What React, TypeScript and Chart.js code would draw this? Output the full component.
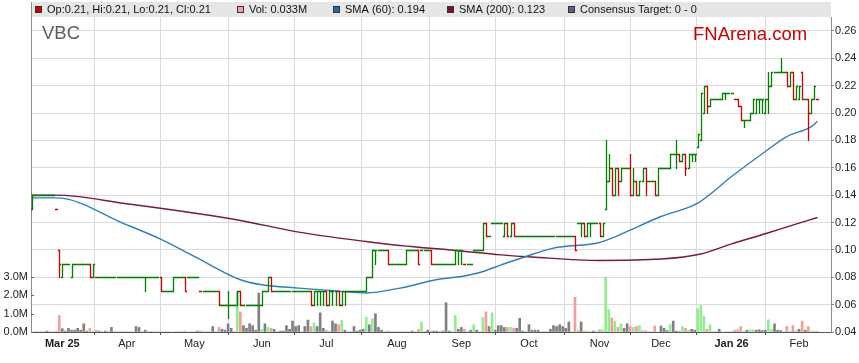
import React, { useEffect, useRef } from "react";
import { Chart, registerables } from "chart.js";

Chart.register(...registerables);

type Bar = number | [number, number, number, number];

// Daily bars, one array per month (weekdays). A plain number = flat day (O=H=L=C); a tuple = [open, high, low, close].
const feb25: Bar[] = [[0.13, 0.14, 0.13, 0.14], 0.14, 0.14, 0.14, 0.14, 0.14, 0.14, 0.14, 0.13, [0.1, 0.1, 0.08, 0.09]];
const mar25: Bar[] = [[0.08, 0.09, 0.08, 0.09], 0.09, 0.09, [0.08, 0.09, 0.08, 0.09], 0.09, 0.09, 0.09, 0.09, 0.09, [0.09, 0.09, 0.08, 0.08], [0.08, 0.09, 0.08, 0.09], 0.08, 0.08, 0.08, 0.08, 0.08, 0.08, 0.08, 0.08, 0.08, 0.08];
const apr25: Bar[] = [0.08, 0.08, 0.08, 0.08, 0.08, 0.08, [0.08, 0.08, 0.07, 0.08], 0.08, 0.08, 0.08, 0.08, [0.08, 0.08, 0.07, 0.07], 0.07, 0.07, 0.07, [0.07, 0.08, 0.07, 0.08], 0.08, 0.08, 0.08, [0.08, 0.08, 0.07, 0.07], 0.08, 0.08];
const may25: Bar[] = [0.08, 0.08, 0.07, 0.07, 0.07, 0.07, 0.07, 0.07, [0.07, 0.07, 0.06, 0.06], 0.06, 0.06, [0.06, 0.07, 0.05, 0.06], 0.06, 0.06, [0.06, 0.07, 0.06, 0.07], [0.07, 0.07, 0.06, 0.06], 0.06, 0.06, 0.06, 0.06, 0.06, 0.06];
const jun25: Bar[] = [[0.06, 0.07, 0.06, 0.07], 0.07, [0.07, 0.08, 0.07, 0.08], [0.08, 0.08, 0.07, 0.07], 0.07, 0.07, 0.07, 0.07, 0.07, 0.07, 0.07, 0.07, 0.07, 0.07, 0.07, 0.07, [0.07, 0.07, 0.06, 0.06], [0.06, 0.07, 0.06, 0.07], [0.07, 0.07, 0.06, 0.07], [0.07, 0.07, 0.06, 0.07], [0.07, 0.07, 0.06, 0.07]];
const jul25: Bar[] = [[0.07, 0.07, 0.06, 0.06], [0.06, 0.07, 0.06, 0.07], [0.07, 0.07, 0.06, 0.07], [0.07, 0.07, 0.06, 0.07], [0.07, 0.07, 0.06, 0.06], [0.06, 0.07, 0.06, 0.07], [0.07, 0.07, 0.06, 0.07], 0.07, 0.07, 0.07, 0.07, 0.07, 0.07, [0.07, 0.08, 0.07, 0.08], 0.08, [0.08, 0.1, 0.08, 0.1], [0.1, 0.1, 0.09, 0.1], 0.1, 0.1, 0.1, [0.1, 0.1, 0.09, 0.09], 0.09, 0.09];
const aug25: Bar[] = [0.09, 0.09, 0.09, [0.09, 0.1, 0.09, 0.1], 0.1, 0.1, 0.1, [0.1, 0.1, 0.09, 0.09], 0.1, 0.1, 0.1, [0.1, 0.1, 0.09, 0.09], 0.09, 0.09, 0.09, 0.09, 0.09, 0.09, 0.09, [0.09, 0.1, 0.09, 0.1], [0.1, 0.1, 0.09, 0.1]];
const sep25: Bar[] = [[0.1, 0.1, 0.09, 0.1], 0.09, 0.09, 0.09, 0.1, 0.1, 0.1, [0.1, 0.12, 0.1, 0.12], [0.12, 0.12, 0.11, 0.11], 0.11, 0.12, 0.12, 0.12, 0.12, [0.11, 0.12, 0.11, 0.12], [0.12, 0.12, 0.11, 0.11], [0.11, 0.12, 0.11, 0.12], [0.12, 0.12, 0.11, 0.11], 0.11, 0.11, 0.11, 0.11];
const oct25: Bar[] = [0.11, 0.11, 0.11, 0.11, 0.11, 0.11, 0.11, 0.11, 0.11, 0.11, 0.11, 0.11, 0.11, 0.11, 0.11, [0.11, 0.11, 0.1, 0.1], 0.12, [0.12, 0.12, 0.11, 0.12], [0.12, 0.12, 0.11, 0.11], [0.11, 0.12, 0.11, 0.12], [0.12, 0.12, 0.11, 0.12], 0.12, 0.12];
const nov25: Bar[] = [[0.12, 0.12, 0.11, 0.11], [0.11, 0.12, 0.11, 0.12], [0.13, 0.18, 0.13, 0.15], [0.15, 0.17, 0.15, 0.16], [0.16, 0.16, 0.14, 0.14], [0.14, 0.16, 0.14, 0.16], [0.16, 0.16, 0.14, 0.15], [0.15, 0.16, 0.15, 0.16], 0.16, 0.16, [0.16, 0.17, 0.14, 0.14], [0.14, 0.16, 0.14, 0.15], [0.15, 0.15, 0.14, 0.14], [0.14, 0.15, 0.14, 0.15], [0.15, 0.16, 0.15, 0.16], [0.16, 0.16, 0.14, 0.15], 0.15, 0.15, [0.15, 0.15, 0.14, 0.14], [0.14, 0.16, 0.14, 0.16]];
const dec25: Bar[] = [0.16, 0.16, 0.16, [0.16, 0.17, 0.16, 0.17], 0.17, [0.17, 0.18, 0.16, 0.17], [0.17, 0.17, 0.165, 0.165], [0.165, 0.17, 0.165, 0.17], [0.17, 0.17, 0.155, 0.16], [0.16, 0.17, 0.16, 0.17], [0.17, 0.17, 0.165, 0.17], [0.17, 0.17, 0.165, 0.17], [0.175, 0.185, 0.175, 0.185], [0.18, 0.215, 0.18, 0.215], [0.2, 0.22, 0.2, 0.22], [0.22, 0.22, 0.2, 0.205], [0.205, 0.21, 0.205, 0.21], 0.21, 0.21, 0.21, [0.21, 0.215, 0.21, 0.215], [0.215, 0.215, 0.21, 0.215], 0.215];
const jan26: Bar[] = [0.215, 0.21, [0.21, 0.21, 0.205, 0.205], [0.205, 0.205, 0.195, 0.195], [0.195, 0.195, 0.19, 0.195], 0.195, [0.195, 0.2, 0.195, 0.2], [0.2, 0.21, 0.2, 0.21], [0.2, 0.21, 0.2, 0.21], [0.21, 0.21, 0.2, 0.21], [0.21, 0.21, 0.2, 0.21], [0.2, 0.21, 0.2, 0.21], [0.21, 0.23, 0.2, 0.22], [0.22, 0.23, 0.22, 0.23], 0.23, 0.23, [0.23, 0.24, 0.23, 0.23], 0.23, [0.23, 0.23, 0.22, 0.22], [0.22, 0.23, 0.22, 0.23], [0.23, 0.23, 0.21, 0.21], [0.21, 0.22, 0.21, 0.22]];
const feb26: Bar[] = [[0.21, 0.22, 0.21, 0.22], [0.23, 0.23, 0.21, 0.21], 0.21, [0.21, 0.21, 0.18, 0.2], [0.2, 0.21, 0.2, 0.21], [0.21, 0.22, 0.21, 0.22], 0.21];

// Daily volume (millions of shares), one array per month
const volFeb25 = [0, 0, 0, 0, 0, 0.05, 0, 0, 0.05, 0.9];
const volMar25 = [0.18, 0.05, 0.2, 0.1, 0.1, 0.2, 0.1, 0.45, 0.05, 0.2, 0.05, 0.1, 0.05, 0, 0.05, 0, 0.25, 0, 0, 0, 0];
const volApr25 = [0, 0, 0, 0.3, 0.25, 0, 0.1, 0, 0, 0, 0, 0, 0, 0, 0, 0, 0, 0, 0, 0.05, 0, 0];
const volMay25 = [0, 0.05, 0.05, 0, 0, 0, 0.3, 0, 0.25, 0.15, 0.1, 0.45, 0.2, 0, 2.2, 1.1, 0.35, 0.2, 0.45, 0.35, 0.1, 2.13];
const volJun25 = [0.15, 0.45, 0.25, 0.2, 0.15, 0, 0.05, 0.05, 0.35, 0.15, 0.6, 0.3, 0.35, 0, 0.3, 0.65, 0.3, 0.5, 0.3, 1.05, 0.2];
const volJul25 = [0.1, 0.05, 0.6, 0.45, 0.4, 0.65, 0.1, 0, 0, 0.3, 0.05, 0.1, 0.15, 0.8, 0.4, 0.73, 1.0, 0.25, 0.1, 0, 0.05, 0, 0];
const volAug25 = [0, 0, 0, 0.05, 0, 0.05, 0, 0.15, 0.55, 0, 0.1, 0.05, 0.05, 0.05, 0, 0.05, 1.6, 0.05, 0, 0.9, 0.15];
const volSep25 = [0.25, 0.15, 0, 0.1, 0.4, 0.1, 0, 0.8, 1.1, 0.3, 1.05, 0.1, 0.35, 0.35, 0.25, 0.25, 0.25, 0.2, 0.2, 0.75, 0.05, 0];
const volOct25 = [0.4, 0.1, 0.1, 0.1, 0, 0, 0, 0.15, 0.35, 0.3, 0.4, 0.3, 0.2, 0.55, 0, 1.9, 0.1, 0.55, 0.05, 0.05, 0, 0.05, 0];
const volNov25 = [0.13, 0.1, 3.0, 1.22, 0.77, 0.6, 0.25, 0.45, 0.2, 0.45, 0.3, 0.25, 0.3, 0.35, 0.08, 0.08, 0, 0, 0.33, 0];
const volDec25 = [0.33, 0.2, 0.08, 0.4, 0.6, 0.05, 0.05, 0.3, 0.2, 0.1, 0.15, 0.1, 1.27, 1.45, 0.85, 0.15, 0.4, 0, 0, 0.15, 0, 0, 0];
const volJan26 = [0, 0.1, 0.12, 0.3, 0, 0.1, 0.12, 0.12, 0.1, 0.12, 0.08, 0.1, 0.67, 0.15, 0.45, 0.1, 0.08, 0, 0.3, 0.05, 0.35, 0.08];
const volFeb26 = [0.15, 0.6, 0.1, 0.3, 0.05, 0.05, 0.033];

const monthLabels = ["", "Mar 25", "Apr", "May", "Jun", "Jul", "Aug", "Sep", "Oct", "Nov", "Dec", "Jan 26", "Feb"];

// Moving averages, sampled at weekday numbers (0 = 3 Mar 2025)
const sma60Day = [-10, -2, 21, 32, 43, 58, 65, 77, 88, 99, 110, 123, 130, 136, 143, 151, 160, 175, 179, 184, 195, 207, 218, 229, 236, 244, 246];
const sma60Val = [0.138, 0.138, 0.1183, 0.1079, 0.0953, 0.0782, 0.0745, 0.0721, 0.0702, 0.0685, 0.0721, 0.0787, 0.0806, 0.0835, 0.0891, 0.0952, 0.1013, 0.1054, 0.1086, 0.1135, 0.1244, 0.1342, 0.1536, 0.1719, 0.1828, 0.1901, 0.194];
const sma200Day = [-10, -2, 21, 45, 58, 77, 99, 110, 128, 143, 153, 175, 195, 208, 218, 229, 240, 246];
const sma200Val = [0.14, 0.14, 0.1337, 0.1262, 0.1215, 0.113, 0.1061, 0.1032, 0.0996, 0.0964, 0.0948, 0.0923, 0.0933, 0.097, 0.1044, 0.1118, 0.1196, 0.1237];

const priceTicks = [0.04, 0.06, 0.08, 0.1, 0.12, 0.14, 0.16, 0.18, 0.2, 0.22, 0.24, 0.26];
const volTicks = [0, 1, 2, 3];

const legendTexts = ["Op:0.21, Hi:0.21, Lo:0.21, Cl:0.21", "Vol: 0.033M", "SMA (60): 0.194", "SMA (200): 0.123", "Consensus Target: 0 - 0"];
const tickerName = "VBC";
const brandName = "FNArena.com";

// ---------- styling ----------
const FONT = "'Liberation Sans', Arial, Helvetica, sans-serif";
const UP = "#008000";
const DOWN = "#d40000";
const VOL_UP = "#90ee90";
const VOL_DOWN = "#f79c9c";
const VOL_FLAT = "#808080";
const SMA60_COLOR = "#2c7fc0";
const SMA200_COLOR = "#7d1838";
const GRID = "#dadada";
const legendSwatches = ["#cc0000", "#f4a0a0", "#1f6aa8", "#7a1030", "#5f5f8c"];
const legendX = [35, 237, 333, 447, 568];

// ---------- derived ----------
const monthBars: Bar[][] = [feb25, mar25, apr25, may25, jun25, jul25, aug25, sep25, oct25, nov25, dec25, jan26, feb26];
const monthVols: number[][] = [volFeb25, volMar25, volApr25, volMay25, volJun25, volJul25, volAug25, volSep25, volOct25, volNov25, volDec25, volJan26, volFeb26];

const toOhlc = (b: Bar) => (typeof b === "number" ? { o: b, h: b, l: b, c: b } : { o: b[0], h: b[1], l: b[2], c: b[3] });
const firstDay = -feb25.length;
const bars = monthBars.flat().map(toOhlc);
const vols = monthVols.flat();
const days = bars.map((_, k) => firstDay + k);
const dirs = bars.map((b, k) => {
  if (k === 0) return 1;
  const d = b.c - bars[k - 1].c;
  return Math.abs(d) < 1e-9 ? 0 : Math.sign(d);
});
const monthStarts: number[] = [];
{
  let acc = firstDay;
  monthBars.forEach((m) => {
    monthStarts.push(acc);
    acc += m.length;
  });
}
const labelAt = (v: number) => {
  const idx = monthStarts.indexOf(v);
  return idx >= 0 ? monthLabels[idx] : "";
};

const ohlcPlugin = {
  id: "ohlc",
  afterDatasetsDraw(chart: any) {
    const { ctx, chartArea, scales } = chart;
    const x = scales.x;
    const y = scales.y;
    ctx.save();
    ctx.beginPath();
    ctx.rect(chartArea.left, chartArea.top, chartArea.right - chartArea.left, chartArea.bottom - chartArea.top);
    ctx.clip();
    ctx.lineWidth = 1.3;
    bars.forEach((b, k) => {
      const px = Math.round(x.getPixelForValue(days[k])) + 0.5;
      const yo = Math.round(y.getPixelForValue(b.o)) + 0.5;
      const yc = Math.round(y.getPixelForValue(b.c)) + 0.5;
      const yh = Math.round(y.getPixelForValue(b.h)) + 0.5;
      const yl = Math.round(y.getPixelForValue(b.l)) + 0.5;
      ctx.strokeStyle = dirs[k] < 0 ? DOWN : UP;
      ctx.beginPath();
      if (yl - yh > 0.1) {
        ctx.moveTo(px, yh - 0.5);
        ctx.lineTo(px, yl + 0.5);
      }
      ctx.moveTo(px - 1.6, yo);
      ctx.lineTo(px + 0.5, yo);
      ctx.moveTo(px - 0.5, yc);
      ctx.lineTo(px + 1.6, yc);
      ctx.stroke();
    });
    ctx.restore();
  },
};

const decorPlugin = {
  id: "decor",
  beforeDraw(chart: any) {
    const { ctx, width, height } = chart;
    ctx.save();
    ctx.fillStyle = "#ffffff";
    ctx.fillRect(0, 0, width, height);
    ctx.restore();
  },
  beforeDatasetsDraw(chart: any) {
    const { ctx, chartArea } = chart;
    ctx.save();
    ctx.textBaseline = "alphabetic";
    ctx.font = `18.5px ${FONT}`;
    ctx.fillStyle = "#5e5e5e";
    ctx.textAlign = "left";
    ctx.fillText(tickerName, chartArea.left + 11, 39);
    ctx.fillStyle = "#cc0000";
    ctx.fillText(brandName, 693, 40);
    ctx.restore();
  },
  afterDraw(chart: any) {
    const { ctx, chartArea, scales } = chart;
    ctx.save();
    // legend band
    ctx.fillStyle = "#e6e6e6";
    ctx.fillRect(chartArea.left, 2, chartArea.right - chartArea.left, chartArea.top - 2);
    ctx.strokeStyle = "#8c8c8c";
    ctx.lineWidth = 1;
    ctx.beginPath();
    ctx.moveTo(Math.round(chartArea.left) + 0.5, 2);
    ctx.lineTo(Math.round(chartArea.left) + 0.5, chartArea.top);
    ctx.stroke();
    ctx.font = `11px ${FONT}`;
    ctx.textBaseline = "middle";
    ctx.textAlign = "left";
    legendTexts.forEach((t, i) => {
      const lx = legendX[i];
      ctx.fillStyle = legendSwatches[i];
      ctx.fillRect(lx, 6, 7, 7);
      ctx.strokeStyle = "#333";
      ctx.lineWidth = 1;
      ctx.strokeRect(lx + 0.5, 6.5, 6, 6);
      ctx.fillStyle = "#111";
      ctx.fillText(t, lx + 12, 10);
    });
    // inner tick marks on the volume axis
    const v = scales.vol;
    ctx.strokeStyle = "#666";
    ctx.beginPath();
    volTicks.forEach((t) => {
      const py = Math.round(v.getPixelForValue(t)) + 0.5;
      ctx.moveTo(chartArea.left, py);
      ctx.lineTo(chartArea.left + 3, py);
    });
    ctx.stroke();
    ctx.restore();
  },
};

export default function App() {
  const ref = useRef<HTMLCanvasElement | null>(null);

  useEffect(() => {
    if (!ref.current) return;
    Chart.defaults.font.family = FONT;
    const chart = new Chart(ref.current, {
      type: "bar",
      data: {
        datasets: [
          {
            type: "line",
            label: "SMA (60)",
            xAxisID: "x",
            yAxisID: "y",
            data: sma60Day.map((d, k) => ({ x: d, y: sma60Val[k] })),
            borderColor: SMA60_COLOR,
            borderWidth: 1.4,
            pointRadius: 0,
            cubicInterpolationMode: "monotone",
            order: 1,
          } as any,
          {
            type: "line",
            label: "SMA (200)",
            xAxisID: "x",
            yAxisID: "y",
            data: sma200Day.map((d, k) => ({ x: d, y: sma200Val[k] })),
            borderColor: SMA200_COLOR,
            borderWidth: 1.4,
            pointRadius: 0,
            cubicInterpolationMode: "monotone",
            order: 2,
          } as any,
          {
            type: "bar",
            label: "Vol",
            xAxisID: "x",
            yAxisID: "vol",
            data: days.map((d, k) => ({ x: d, y: vols[k] })),
            backgroundColor: dirs.map((s) => (s > 0 ? VOL_UP : s < 0 ? VOL_DOWN : VOL_FLAT)),
            barThickness: 2,
            grouped: false,
            order: 3,
          } as any,
        ],
      },
      options: {
        animation: false,
        responsive: false,
        devicePixelRatio: 1,
        layout: { padding: { top: 17, left: 0, right: 0, bottom: 0 } },
        plugins: { legend: { display: false }, tooltip: { enabled: false } },
        scales: {
          x: {
            type: "linear",
            position: "bottom",
            min: -10.2,
            max: 250.4,
            offset: false,
            afterBuildTicks: (s: any) => {
              s.ticks = monthStarts.slice(1).map((v) => ({ value: v }));
            },
            afterFit: (s: any) => {
              s.height = 31;
            },
            ticks: {
              autoSkip: false,
              maxRotation: 0,
              padding: 2,
              color: "#222",
              callback: (v: any) => labelAt(Number(v)),
              font: (c: any) => {
                const lbl = c.tick ? labelAt(c.tick.value) : "";
                return { family: FONT, size: 11, weight: lbl.includes(" ") ? "bold" : "normal" };
              },
            },
            grid: { color: GRID, tickLength: 3, tickColor: "#555" },
            border: { color: "#555" },
          },
          y: {
            type: "linear",
            position: "right",
            min: 0.04,
            max: 0.2702,
            afterBuildTicks: (s: any) => {
              s.ticks = priceTicks.map((v) => ({ value: v }));
            },
            afterFit: (s: any) => {
              s.width = 28;
            },
            ticks: {
              padding: 1,
              color: "#222",
              font: { family: FONT, size: 11 },
              callback: (v: any) => Number(v).toFixed(2),
            },
            grid: { color: GRID, tickLength: 3, tickColor: "#8c8c8c" },
            border: { color: "#8c8c8c" },
          },
          vol: {
            type: "linear",
            position: "left",
            min: 0,
            max: 17.24,
            afterBuildTicks: (s: any) => {
              s.ticks = volTicks.map((v) => ({ value: v }));
            },
            afterFit: (s: any) => {
              s.width = 31;
            },
            ticks: {
              padding: 3,
              color: "#222",
              font: { family: FONT, size: 11 },
              callback: (v: any) => Number(v).toFixed(1) + "M",
            },
            grid: { drawOnChartArea: false, drawTicks: false },
            border: { color: "#8c8c8c" },
          },
        },
      } as any,
      plugins: [decorPlugin, ohlcPlugin],
    });
    return () => chart.destroy();
  }, []);

  return (
    <div style={{ position: "absolute", left: 0, top: 0, width: 859, height: 363 }}>
      <canvas ref={ref} width={859} height={363} style={{ width: 859, height: 363, display: "block" }} />
    </div>
  );
}
